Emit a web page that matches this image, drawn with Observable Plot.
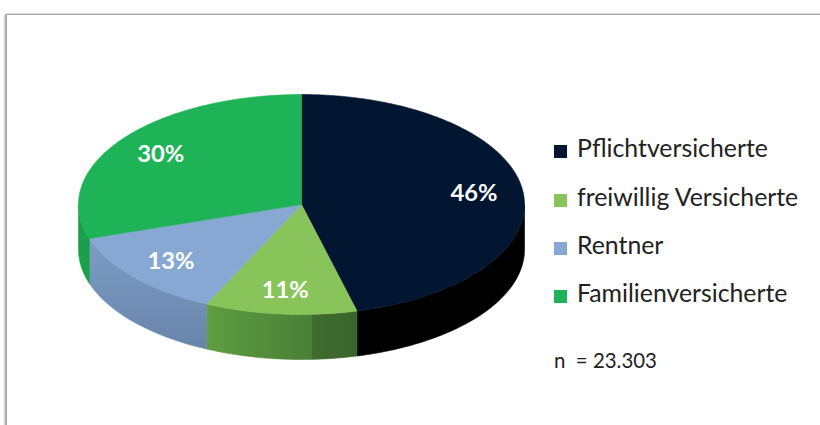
<!DOCTYPE html>
<html><head><meta charset="utf-8">
<script src="https://cdn.jsdelivr.net/npm/d3@7"></script>
<script src="https://cdn.jsdelivr.net/npm/@observablehq/plot@0.6"></script>
<style>
body{margin:0;background:#fff;}
#wrap{position:relative;width:820px;height:425px;overflow:hidden;font-family:Lato,"Open Sans",sans-serif;color:#222;}
#frame{position:absolute;left:6px;top:14px;width:900px;height:500px;border:1px solid #a8a8a8;box-shadow:-1px 0 2px #8c8c8c;background:#fff;}
#chart{position:absolute;left:0;top:0;}
.row{position:absolute;left:554px;height:30px;line-height:30px;white-space:nowrap;}
.sw{display:inline-block;width:13px;height:13px;margin-right:10px;vertical-align:-1px;}
#note{position:absolute;left:554px;top:347px;line-height:26px;white-space:pre;}
</style></head>
<body><div id="wrap"><div id="frame"></div><div id="chart"></div><div id="legend"></div><div id="note"></div></div>
<script>
const categories = ["Pflichtversicherte", "freiwillig Versicherte", "Rentner", "Familienversicherte"];
const shares = [46, 11, 13, 30];
const labels = ["46%", "11%", "13%", "30%"];
const topColors = ["#021632", "#88c45a", "#86a8d2", "#1db356"];
const sideColors = ["#000000", "#4e8a36", "#6f8fb7", "#199e4b"];
const sampleSize = "n  = 23.303";

const FAMILY = "Lato, 'Open Sans', sans-serif";
const ctx = document.createElement("canvas").getContext("2d");
const fit = (text, weight, target) => {
  ctx.font = `${weight} 100px Lato`;
  return 100 * target / ctx.measureText(text).width;
};
const legendSize = fit(categories[0], "normal", 191);
const labelSize = fit(labels[0], "bold", 47);
const noteSize = fit(sampleSize, "normal", 103);

// geometry of the drawing (pixels)
const cx = 301, cy = 204, rx = 223, ry = 110, depth = 45;
const d = depth / ry;
const total = d3.sum(shares);
let acc = 0;
const slices = shares.map((v, i) => {
  const a0 = acc / total * 2 * Math.PI; acc += v;
  const a1 = acc / total * 2 * Math.PI;
  return {i, a0, a1, mid: (a0 + a1) / 2};
});
const pt = (a, off = 0) => ({x: Math.sin(a), y: -Math.cos(a) + off});
const arcPts = (a0, a1, off = 0) => {
  const n = Math.max(2, Math.ceil((a1 - a0) / 0.01));
  return d3.range(n + 1).map(k => pt(a0 + (a1 - a0) * k / n, off));
};
const tops = [], walls = [];
for (const s of slices) {
  [{x: 0, y: 0}, ...arcPts(s.a0, s.a1), {x: 0, y: 0}].forEach(p => tops.push({...p, id: "t" + s.i, color: topColors[s.i]}));
  const b0 = Math.max(s.a0, Math.PI / 2), b1 = Math.min(s.a1, 3 * Math.PI / 2);
  if (b1 > b0) {
    const up = arcPts(b0, b1), dn = arcPts(b0, b1, d).reverse();
    [...up, ...dn, up[0]].forEach(p => walls.push({...p, id: "w" + s.i, i: s.i}));
  }
}
const wallFill = ["#000000", "url(#gGreen)", "url(#gBlue)", "#1a9f4b"];
const labelData = slices.map(s => ({x: 0.78 * Math.sin(s.mid), y: -0.78 * Math.cos(s.mid), text: labels[s.i]}));

const chart = Plot.plot({
  width: 820, height: 425, margin: 0,
  style: {background: "transparent", overflow: "visible"},
  x: {domain: [-1, 1], range: [cx - rx, cx + rx], axis: null},
  y: {domain: [-1, 1], range: [cy - ry, cy + ry], axis: null},
  color: {type: "identity"},
  marks: [
    ...[0, 1, 2, 3].map(i => Plot.line(walls.filter(w => w.i === i), {x: "x", y: "y", z: "id", fill: wallFill[i], stroke: wallFill[i], strokeWidth: 0.6})),
    Plot.line(tops, {x: "x", y: "y", z: "id", fill: "color", stroke: "color", strokeWidth: 0.6}),
    Plot.text(labelData, {x: "x", y: "y", text: "text", fill: "white", fontSize: labelSize, fontWeight: "bold", fontFamily: FAMILY})
  ]
});
const defs = document.createElementNS("http://www.w3.org/2000/svg", "defs");
defs.innerHTML = `
<linearGradient id="gGreen" gradientUnits="userSpaceOnUse" x1="207" y1="0" x2="356" y2="0">
  <stop offset="0" stop-color="#5f9d41"/><stop offset="0.7" stop-color="#4a7f37"/>
  <stop offset="0.7" stop-color="#3f6c2f"/><stop offset="1" stop-color="#3a642c"/></linearGradient>
<linearGradient id="gBlue" gradientUnits="userSpaceOnUse" x1="0" y1="240" x2="0" y2="355">
  <stop offset="0" stop-color="#7d9dc6"/><stop offset="1" stop-color="#6683a8"/></linearGradient>`;
chart.insertBefore(defs, chart.firstChild);
document.getElementById("chart").appendChild(chart);

const rowCenters = [148, 197, 245, 293];
const legend = document.getElementById("legend");
categories.forEach((c, i) => {
  const r = document.createElement("div");
  r.className = "row";
  r.style.top = (rowCenters[i] - 15) + "px";
  r.style.fontSize = legendSize + "px";
  r.innerHTML = `<span class="sw" style="background:${topColors[i]}"></span>${c}`;
  legend.appendChild(r);
});
const note = document.getElementById("note");
note.textContent = sampleSize;
note.style.fontSize = noteSize + "px";
</script>
</body></html>
